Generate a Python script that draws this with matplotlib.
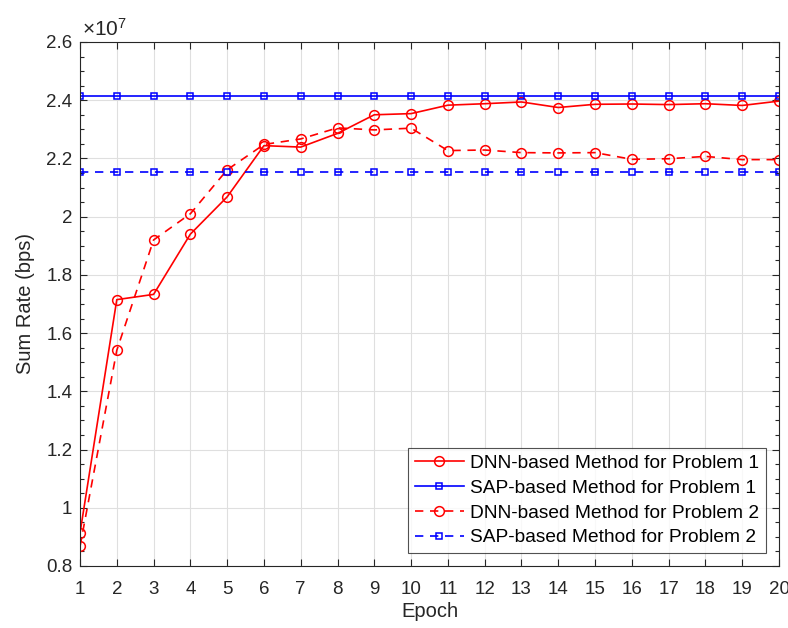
import matplotlib
matplotlib.use("Agg")
import matplotlib.pyplot as plt
from matplotlib.ticker import MultipleLocator

epochs = list(range(1, 21))
dnn_p1 = [0.913, 1.715, 1.733, 1.940, 2.068, 2.244, 2.239, 2.286, 2.350, 2.354,
          2.383, 2.388, 2.394, 2.375, 2.386, 2.387, 2.385, 2.388, 2.382, 2.397]
sap_p1 = [2.416] * 20
dnn_p2 = [0.867, 1.541, 1.920, 2.010, 2.161, 2.248, 2.267, 2.305, 2.298, 2.304,
          2.227, 2.229, 2.220, 2.219, 2.220, 2.197, 2.199, 2.207, 2.196, 2.196]
sap_p2 = [2.154] * 20
labels = ["DNN-based Method for Problem 1", "SAP-based Method for Problem 1",
          "DNN-based Method for Problem 2", "SAP-based Method for Problem 2"]
yticks = [0.8, 1.0, 1.2, 1.4, 1.6, 1.8, 2.0, 2.2, 2.4, 2.6]
ytick_labels = ["0.8", "1", "1.2", "1.4", "1.6", "1.8", "2", "2.2", "2.4", "2.6"]

plt.rcParams['font.family'] = ['Liberation Sans', 'DejaVu Sans']
plt.rcParams['mathtext.fontset'] = 'custom'
plt.rcParams['mathtext.rm'] = 'Liberation Sans'
plt.rcParams['mathtext.it'] = 'Liberation Sans:italic'
fig = plt.figure(figsize=(7.88, 6.28), dpi=100)
ax = fig.add_axes([80/788, 1-566/628, (779-80)/788, (566-42)/628])

red = (1, 0, 0)
blue = (0, 0, 1)
ax.plot(epochs, dnn_p1, '-', color=red, marker='o', mfc='none', ms=7, lw=1.2, mew=1.1, label=labels[0])
ax.plot(epochs, sap_p1, '-', color=blue, marker='s', mfc='none', ms=5, lw=1.2, mew=1.1, label=labels[1])
ax.plot(epochs, dnn_p2, '--', color=red, marker='o', mfc='none', ms=7, lw=1.2, mew=1.1, label=labels[2], dashes=(5, 4))
ax.plot(epochs, sap_p2, '--', color=blue, marker='s', mfc='none', ms=5, lw=1.2, mew=1.1, label=labels[3], dashes=(5, 4))

ax.set_xlim(1, 20)
ax.set_ylim(0.8, 2.6)
ax.set_xticks(epochs)
ax.set_yticks(yticks)
ax.set_yticklabels(ytick_labels)
ax.yaxis.set_minor_locator(MultipleLocator(0.05))
ax.tick_params(which='both', direction='in', top=True, right=True, labelsize=13.5, colors='#262626', width=0.8)
ax.tick_params(which='major', length=5)
ax.tick_params(which='minor', length=3)
ax.tick_params(axis='x', pad=10.5)
ax.tick_params(axis='y', pad=5.5)
ax.grid(True, which='major', color='#dfdfdf', lw=0.8)
ax.set_axisbelow(True)
for s in ax.spines.values():
    s.set_color('#262626')
    s.set_linewidth(0.8)

ax.set_xlabel("Epoch", fontsize=14.5, color='#262626', labelpad=3)
ax.set_ylabel("Sum Rate (bps)", fontsize=14.5, color='#262626', labelpad=8)
ax.text(0.003, 1.004, r"$\times\mathrm{10}^{7}$", transform=ax.transAxes, fontsize=15, color='#262626', ha='left', va='bottom')

leg = ax.legend(loc='lower right', fontsize=13.8, frameon=True, fancybox=False,
                edgecolor='#262626', handlelength=2.6, borderpad=0.35, labelspacing=0.38,
                handletextpad=0.3, borderaxespad=0.68)
leg.get_frame().set_linewidth(0.8)

fig.savefig("out.png", dpi=100)
